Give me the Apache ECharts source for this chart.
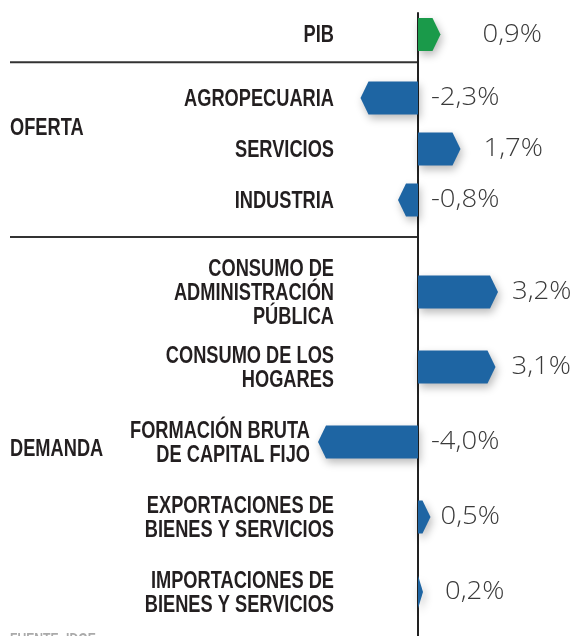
<!DOCTYPE html>
<html><head><meta charset="utf-8">
<script src="https://cdn.jsdelivr.net/npm/echarts@6/dist/echarts.min.js"></script>
<style>html,body{margin:0;padding:0;background:#fff}#c{width:577px;height:636px}</style>
</head><body><div id="c"></div>
<script>
// ---- data ----
const pibCategories = ['PIB'];
const pibValues = [0.9];
const ofertaCategories = ['AGROPECUARIA', 'SERVICIOS', 'INDUSTRIA'];
const ofertaValues = [-2.3, 1.7, -0.8];
const demandaCategories = [
  'CONSUMO DE\nADMINISTRACIÓN\nPÚBLICA',
  'CONSUMO DE LOS\nHOGARES',
  'FORMACIÓN BRUTA\nDE CAPITAL FIJO',
  'EXPORTACIONES DE\nBIENES Y SERVICIOS',
  'IMPORTACIONES DE\nBIENES Y SERVICIOS'
];
const demandaValues = [3.2, 3.1, -4.0, 0.5, 0.2];
const groupLabels = ['OFERTA', 'DEMANDA'];
const sourceText = 'FUENTE: IDGE';

// ---- styling (not data) ----
const labelGaps = [[42], [0, 23, 0], [14, 16, 0, 10, 22]];
const colors = ['#1a9a4a', '#1e65a3', '#1e65a3'];
const catFont = "bold 24px 'Liberation Sans', Arial, sans-serif";
const CAT_SX = 0.76;
const valFont = "300 25px 'Open Sans', 'Roboto', sans-serif";
const VAL_SX = 1.1;
const X_MIN = -16, X_MAX = 6;

const chart = echarts.init(document.getElementById('c'), null, {renderer: 'canvas'});

function fmt(v) { return v.toFixed(1).replace('.', ',') + '%'; }

function makeRender(cats, gaps, color) {
  return function (params, api) {
    const idx = api.value(1);
    const v = api.value(0);
    const z = api.coord([0, idx]);
    const e = api.coord([v, idx]);
    const h = 33;
    const top = z[1] - h / 2, bot = z[1] + h / 2, mid = z[1];
    const dir = v >= 0 ? 1 : -1;
    const w = Math.abs(e[0] - z[0]);
    const tip = Math.min(8, w);
    const body = z[0] + dir * (w - tip);
    const pts = [[z[0], top], [body, top], [e[0], mid], [body, bot], [z[0], bot]];
    const catRight = Math.min(z[0] - 84, v < 0 ? e[0] - 8 : z[0] - 84);
    const valX = v >= 0 ? e[0] + gaps[idx] : z[0] + 13;
    return {
      type: 'group',
      children: [
        {type: 'polygon', shape: {points: pts},
         style: {fill: color, shadowBlur: 8, shadowOffsetX: 2, shadowOffsetY: 4, shadowColor: 'rgba(0,0,0,0.28)'}},
        {type: 'text', x: catRight, y: mid + 1, scaleX: CAT_SX,
         style: {text: cats[idx], x: 0, y: 0, align: 'right', verticalAlign: 'middle',
          font: catFont, fill: '#231f20', lineHeight: 24}},
        {type: 'text', x: valX, y: mid, scaleX: VAL_SX,
         style: {text: fmt(v), x: 0, y: 0, align: 'left', verticalAlign: 'middle',
          font: valFont, fill: '#3a3a3a'}}
      ]
    };
  };
}

const groups = [
  {cats: pibCategories, vals: pibValues, top: 18, height: 33},
  {cats: ofertaCategories, vals: ofertaValues, top: 72.5, height: 153},
  {cats: demandaCategories, vals: demandaValues, top: 254.5, height: 375}
];

const grid = [], xAxis = [], yAxis = [], series = [];
groups.forEach((g, i) => {
  grid.push({left: 18, right: 9, top: g.top, height: g.height});
  xAxis.push({gridIndex: i, type: 'value', min: X_MIN, max: X_MAX, show: false});
  yAxis.push({gridIndex: i, type: 'category', data: g.cats, inverse: true, show: false});
  series.push({
    type: 'custom', xAxisIndex: i, yAxisIndex: i,
    renderItem: makeRender(g.cats, labelGaps[i], colors[i]),
    encode: {x: 0, y: 1},
    data: g.vals.map((v, k) => [v, k]),
    clip: false, silent: true
  });
});
// background grid holding the zero axis line
grid.push({left: 18, right: 9, top: 13, bottom: 0});
xAxis.push({gridIndex: 3, type: 'value', min: X_MIN, max: X_MAX, show: false});
yAxis.push({gridIndex: 3, type: 'value', min: 0, max: 1, show: true,
  axisLine: {show: true, onZero: true, lineStyle: {color: '#222', width: 2}},
  axisTick: {show: false}, axisLabel: {show: false}, splitLine: {show: false}});

chart.setOption({animation: false, grid, xAxis, yAxis, series});

const zeroX = chart.convertToPixel({xAxisIndex: 0}, 0);
const ofertaY = chart.convertToPixel({yAxisIndex: 1}, ofertaCategories[0]);
const ofertaY2 = chart.convertToPixel({yAxisIndex: 1}, ofertaCategories[1]);
const demandaY = chart.convertToPixel({yAxisIndex: 2}, demandaCategories[2]);
const sep1 = (chart.convertToPixel({yAxisIndex: 0}, pibCategories[0]) + ofertaY) / 2 - 4;
const sep2 = (chart.convertToPixel({yAxisIndex: 1}, ofertaCategories[2]) + chart.convertToPixel({yAxisIndex: 2}, demandaCategories[0])) / 2 - 9;

chart.setOption({graphic: [
  {type: 'line', shape: {x1: 10, y1: sep1, x2: zeroX, y2: sep1}, style: {stroke: '#333', lineWidth: 2}},
  {type: 'line', shape: {x1: 10, y1: sep2, x2: zeroX, y2: sep2}, style: {stroke: '#333', lineWidth: 2}},
  {type: 'text', x: 10, y: (ofertaY + ofertaY2) / 2 + 5, scaleX: CAT_SX,
   style: {text: groupLabels[0], x: 0, y: 0, verticalAlign: 'middle', font: catFont, fill: '#231f20'}},
  {type: 'text', x: 10, y: demandaY + 7, scaleX: CAT_SX,
   style: {text: groupLabels[1], x: 0, y: 0, verticalAlign: 'middle', font: catFont, fill: '#231f20'}},
  {type: 'text', x: 10, y: 633, scaleX: CAT_SX,
   style: {text: sourceText, x: 0, y: 0, verticalAlign: 'top', font: "bold 16px 'Liberation Sans', sans-serif", fill: '#aaa'}}
]});
</script></body></html>
